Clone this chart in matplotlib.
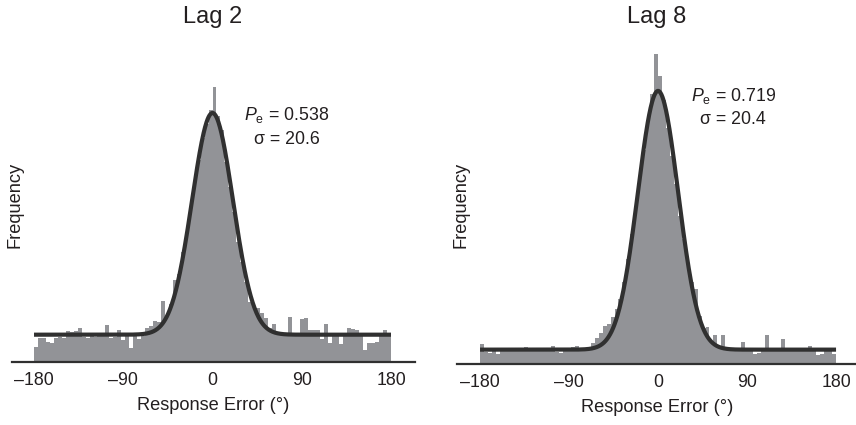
import numpy as np
import matplotlib
matplotlib.use('Agg')
import matplotlib.pyplot as plt
from matplotlib import font_manager

# response error histograms (4 deg bins, -180..180), counts
bin_edges = np.arange(-180, 181, 4)

lag2_counts = [15, 24, 24, 20, 19, 24, 25, 24, 31, 30, 31, 34, 25, 24, 26, 25, 26, 27,
               37, 24, 25, 32, 22, 26, 14, 26, 23, 26, 34, 36, 41, 40, 61, 45, 58, 82,
               88, 110, 130, 155, 180, 202, 224, 238, 252, 275, 246, 232, 200, 175, 150,
               120, 100, 80, 60, 55, 54, 49, 44, 34, 38, 30, 29, 28, 45, 29, 28, 43, 44,
               32, 32, 32, 23, 38, 19, 27, 27, 18, 27, 34, 33, 32, 27, 12, 19, 19, 20,
               27, 32, 27]

lag8_counts = [20, 12, 11, 14, 10, 13, 14, 15, 16, 14, 15, 17, 15, 14, 16, 15, 16, 15,
               18, 12, 11, 13, 14, 17, 18, 16, 16, 17, 21, 26, 31, 38, 40, 47, 55, 65,
               82, 105, 130, 157, 186, 214, 244, 270, 310, 288, 264, 236, 208, 180, 148,
               125, 100, 82, 75, 48, 36, 37, 22, 29, 18, 29, 16, 15, 15, 16, 22, 16, 15,
               10, 11, 15, 29, 15, 16, 16, 25, 15, 16, 15, 15, 14, 16, 18, 15, 9, 10, 15,
               15, 10]

# mixture model fits (printed on the panels) and trial counts the curves are scaled to
lag2_pe, lag2_sd, lag2_n = 0.538, 20.6, 5320
lag8_pe, lag8_sd, lag8_n = 0.719, 20.4, 4600

names = {f.name for f in font_manager.fontManager.ttflist}
if 'Liberation Sans Narrow' in names:
    fam, k = 'Liberation Sans Narrow', 1.0
else:
    fam, k = 'Liberation Sans', 0.85

plt.rcParams['font.family'] = [fam, 'DejaVu Sans']
plt.rcParams['mathtext.fontset'] = 'custom'
plt.rcParams['mathtext.rm'] = fam
plt.rcParams['mathtext.it'] = fam + ':italic'

bar_col = '#929397'
line_col = '#303030'
txt_col = '#231f20'

fig = plt.figure(figsize=(8.56, 4.25), dpi=100)
W, H = 856.0, 425.0


def model_curve(n, pe, sd):
    # gaussian (target) + uniform (guess) mixture, in counts per bin
    x = np.linspace(-180, 180, 721)
    binw = bin_edges[1] - bin_edges[0]
    pdf = pe * np.exp(-x**2 / (2 * sd**2)) / (np.sqrt(2 * np.pi) * sd) + (1 - pe) / 360.0
    return x, n * binw * pdf


def panel(rect, xlim, ytop, counts, pe, sd, n, title, tx, ann_xy, ylab_xy):
    ax = fig.add_axes(rect)
    ax.stairs(counts, bin_edges, fill=True, color=bar_col, linewidth=0)
    x, y = model_curve(n, pe, sd)
    ax.plot(x, y, color=line_col, lw=3.0, solid_capstyle='butt')
    ax.set_xlim(*xlim)
    ax.set_ylim(0, ytop)
    for s in ['left', 'right', 'top']:
        ax.spines[s].set_visible(False)
    ax.spines['bottom'].set_linewidth(1.6)
    ax.spines['bottom'].set_color(line_col)
    ax.set_yticks([])
    ax.set_xticks([-180, -90, 0, 90, 180])
    ax.set_xticklabels(['\u2013180', '\u201390', '0', '90', '180'])
    ax.tick_params(axis='x', length=0, pad=7, labelsize=15 * k, labelcolor=txt_col)
    ax.set_xlabel('Response Error (\u00b0)', fontsize=15.5 * k, color=txt_col, labelpad=6)
    ax.set_ylabel('Frequency', fontsize=15.5 * k, color=txt_col, va='center')
    ax.yaxis.set_label_coords(*ylab_xy)
    fig.text(tx / W, 1 - 17 / H, title, ha='center', va='center', fontsize=20 * k, color=txt_col)
    ax.text(ann_xy[0], ann_xy[1], r'$P_{\mathrm{e}}$' + ' = %.3f' % pe, ha='center', va='center',
            fontsize=15 * k, color=txt_col)
    ax.text(ann_xy[0], ann_xy[1] - 24, '\u03c3 = %.1f' % sd, ha='center', va='center',
            fontsize=15 * k, color=txt_col)
    return ax


# left panel: -180 at x=34 px, 180 at x=391 px, baseline at y=362 px
panel([12.2 / W, 63 / H, 402.6 / W, 302 / H], (-202, 204), 302,
      lag2_counts, lag2_pe, lag2_sd, lag2_n, 'Lag 2', 213, (75, 247),
      (0.007, (362 - 205) / 302))
# right panel: -180 at x=480 px, 180 at x=836 px, baseline at y=364 px
panel([457.3 / W, 61 / H, 400.5 / W, 324 / H], (-203, 202), 324,
      lag8_counts, lag8_pe, lag8_sd, lag8_n, 'Lag 8', 657, (76, 268),
      (0.009, (364 - 205) / 324))

plt.savefig('out.png', dpi=100)
